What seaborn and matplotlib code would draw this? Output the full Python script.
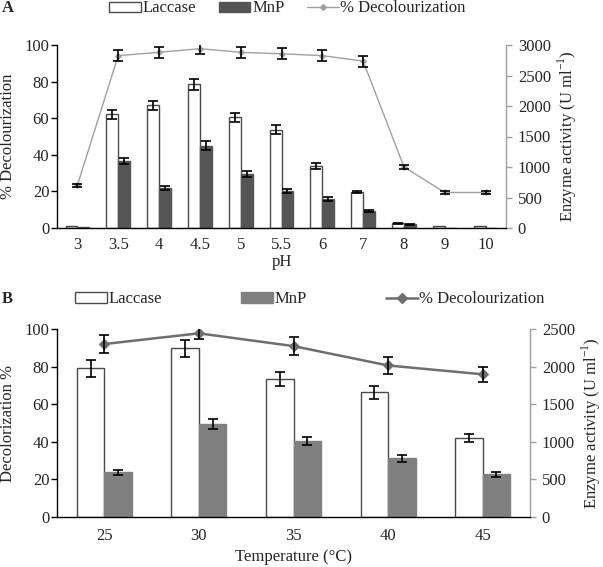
import numpy as np
import pandas as pd
import matplotlib
matplotlib.use("Agg")
import matplotlib.pyplot as plt
from matplotlib.lines import Line2D
from matplotlib.patches import Patch
from matplotlib.ticker import MultipleLocator, FixedLocator
import seaborn as sns

# ---- panel A: pH ----
ph_labels = ["3", "3.5", "4", "4.5", "5", "5.5", "6", "7", "8", "9", "10"]
ph_laccase = [27, 1866, 2010, 2358, 1818, 1614, 1014, 591, 81, 39, 27]
ph_laccase_err = [0, 75, 75, 90, 75, 72, 45, 15, 9, 0, 0]
ph_mnp = [15, 1095, 657, 1350, 888, 609, 480, 279, 60, 0, 0]
ph_mnp_err = [0, 54, 33, 75, 45, 36, 30, 15, 9, 0, 0]
ph_decol = [23.4, 94.2, 96.0, 98.0, 96.0, 95.2, 94.2, 91.2, 33.4, 19.4, 19.4]
ph_decol_err = [0.8, 3.2, 3.0, 2.8, 3.0, 3.0, 3.0, 3.0, 1.0, 0.6, 0.6]

# ---- panel B: temperature ----
temp_labels = ["25", "30", "35", "40", "45"]
temp_laccase = [1975, 2243, 1833, 1658, 1053]
temp_laccase_err = [108, 113, 93, 88, 50]
temp_mnp = [593, 1235, 1015, 780, 570]
temp_mnp_err = [35, 63, 53, 43, 33]
temp_decol = [92.0, 97.7, 90.9, 80.6, 75.9]
temp_decol_err = [4.8, 3.0, 4.6, 4.3, 4.1]

sns.set_theme(style="white")
plt.rcParams['font.family'] = ['Liberation Serif', 'DejaVu Serif']
plt.rcParams['mathtext.fontset'] = 'custom'
plt.rcParams['mathtext.rm'] = 'Liberation Serif'

W, H = 603, 567
fig = plt.figure(figsize=(W / 100, H / 100), dpi=100)

FS = 12


def panel(box, cats, lac, lac_err, mnp, mnp_err, dec, dec_err, ymax2,
          mnp_color, line_color, line_w, ms, xlabel, ylabel, xpad, labels_px):
    l, t, r, b = box
    ax = fig.add_axes([l / W, 1 - b / H, (r - l) / W, (b - t) / H])
    ax2 = ax.twinx()
    df = pd.DataFrame({
        "cat": cats * 2,
        "enzyme": ["Laccase"] * len(cats) + ["MnP"] * len(cats),
        "activity": lac + mnp,
    })
    sns.barplot(data=df, x="cat", y="activity", hue="enzyme", order=cats,
                palette={"Laccase": "white", "MnP": mnp_color},
                width=0.58, gap=0, errorbar=None, legend=False, ax=ax2)
    for c, errs, ec in [(ax2.containers[0], lac_err, "#4a4a4a"),
                        (ax2.containers[1], mnp_err, mnp_color)]:
        for p, e in zip(c.patches, errs):
            p.set_edgecolor(ec)
            p.set_linewidth(1.0)
            if e > 0:
                ax2.errorbar(p.get_x() + p.get_width() / 2, p.get_height(), yerr=e,
                             fmt="none", ecolor="black", elinewidth=1.2,
                             capsize=3.3, capthick=1.2, zorder=5)
    x = np.arange(len(cats))
    sns.lineplot(x=x, y=dec, ax=ax, color=line_color, lw=line_w, marker="D",
                 markersize=ms, markeredgecolor=line_color, zorder=4)
    ax.errorbar(x, dec, yerr=dec_err, fmt="none", ecolor="black", elinewidth=1.2,
                capsize=3.3, capthick=1.2, zorder=5)
    ax.set_zorder(ax2.get_zorder() + 1)
    ax.patch.set_visible(False)

    n = len(cats)
    for a in (ax, ax2):
        a.set_xlim(-0.5, n - 0.5)
    ax.set_ylim(0, 100)
    ax2.set_ylim(0, ymax2)
    ax.yaxis.set_major_locator(MultipleLocator(20))
    ax2.yaxis.set_major_locator(MultipleLocator(500))

    ax.xaxis.set_major_locator(FixedLocator(np.arange(n + 1) - 0.5))
    ax.xaxis.set_minor_locator(FixedLocator(x))
    ax.set_xticklabels([], minor=False)
    ax.set_xticklabels(cats, minor=True)
    ax.tick_params(axis="x", which="major", length=4, width=1, direction="out",
                   color="black", bottom=True)
    ax.tick_params(axis="x", which="minor", length=0, labelsize=FS, pad=xpad)
    ax.tick_params(axis="y", length=4, width=1, direction="out", color="black",
                   left=True, labelsize=FS, pad=1.5)
    ax2.tick_params(axis="y", length=4, width=1, direction="out", color="#a0a0a0",
                    right=True, labelsize=FS, pad=4.5)
    ax2.set_xlabel("")
    ax2.set_xticks([])

    for s in ["top", "right"]:
        ax.spines[s].set_visible(False)
    for s in ["top", "left", "bottom"]:
        ax2.spines[s].set_visible(False)
    ax.spines["left"].set_color("black")
    ax.spines["bottom"].set_color("black")
    ax2.spines["right"].set_color("#a0a0a0")
    for sp in list(ax.spines.values()) + list(ax2.spines.values()):
        sp.set_linewidth(1.0)

    ax.set_xlabel(xlabel, fontsize=FS)
    ax.set_ylabel(ylabel, fontsize=FS)
    ax2.set_ylabel(r"Enzyme activity (U ml$^{\mathregular{-1}}$)", fontsize=FS)
    xl_y, yl_x, yr_x = labels_px
    ax.xaxis.set_label_coords(0.5, (b - xl_y) / (b - t))
    ax.xaxis.label.set_va("center")
    ax.yaxis.set_label_coords((yl_x - l) / (r - l), 0.5)
    ax.yaxis.label.set_va("center")
    ax2.yaxis.set_label_coords((yr_x - l) / (r - l), 0.5)
    ax2.yaxis.label.set_va("center")
    return ax, ax2


axA, axA2 = panel((57, 45, 506, 228), ph_labels, ph_laccase,
                  ph_laccase_err, ph_mnp, ph_mnp_err, ph_decol, ph_decol_err,
                  3000, "#555555", "#a0a0a0", 1.0, 3, "pH", "% Decolourization",
                  6.3, (262, 8, 567))
axB, axB2 = panel((57, 329, 530, 517), temp_labels, temp_laccase,
                  temp_laccase_err, temp_mnp, temp_mnp_err, temp_decol,
                  temp_decol_err, 2500, "#808080", "#6e6e6e", 1.8, 5,
                  "Temperature (\u00b0C)", "Decolorization %",
                  8.2, (557, 8, 591))


def legend(y_px, x_px, mnp_color, line_color, lw, ms, spacing):
    handles = [Patch(facecolor="white", edgecolor="#4a4a4a", lw=1.0),
               Patch(facecolor=mnp_color, edgecolor=mnp_color),
               Line2D([], [], color=line_color, lw=lw, marker="D", markersize=ms)]
    fig.legend(handles, ["Laccase", "MnP", "% Decolourization"], loc="center",
               bbox_to_anchor=(x_px / W, 1 - y_px / H), ncol=3, frameon=False,
               fontsize=FS, handlelength=1.9, handleheight=0.55,
               handletextpad=0.1, columnspacing=spacing, borderpad=0)


legend(8.5, 287.5, "#555555", "#a0a0a0", 1.0, 3, 1.35)
legend(299.4, 310, "#808080", "#6e6e6e", 1.8, 5, 4.75)

fig.text(2 / W, 1 - 8 / H, "A", fontsize=FS, fontweight="bold", va="center")
fig.text(2 / W, 1 - 299 / H, "B", fontsize=FS, fontweight="bold", va="center")

fig.savefig("out.png", dpi=100)
